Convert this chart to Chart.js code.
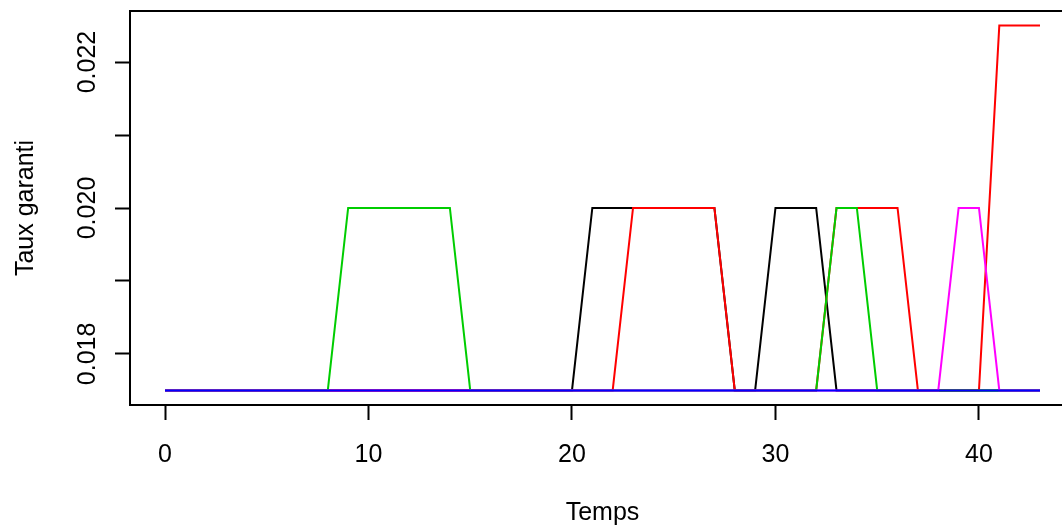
<!DOCTYPE html>
<html>
<head>
<meta charset="utf-8">
<script src="https://cdn.jsdelivr.net/npm/chart.js@4"></script>
<style>
    html, body { margin: 0; padding: 0; background: #fff; }
    #wrap { width: 1062px; height: 526px; overflow: hidden; position: relative; }
    #graficoTaux { display: block; }
</style>
</head>
<body>
<div id="wrap"><canvas id="graficoTaux" width="1076" height="526"></canvas></div>
<script>
// pas de temps
const temps = [0, 1, 2, 3, 4, 5, 6, 7, 8, 9, 10, 11, 12, 13, 14, 15, 16, 17, 18, 19, 20, 21,
    22, 23, 24, 25, 26, 27, 28, 29, 30, 31, 32, 33, 34, 35, 36, 37, 38, 39, 40, 41, 42, 43];

// taux garanti par scénario
const tauxNoir = [0.0175, 0.0175, 0.0175, 0.0175, 0.0175, 0.0175, 0.0175, 0.0175, 0.0175, 0.0175, 0.0175,
    0.0175, 0.0175, 0.0175, 0.0175, 0.0175, 0.0175, 0.0175, 0.0175, 0.0175, 0.0175, 0.02,
    0.02, 0.02, 0.02, 0.02, 0.02, 0.02, 0.0175, 0.0175, 0.02, 0.02, 0.02, 0.0175,
    0.0175, 0.0175, 0.0175, 0.0175, 0.0175, 0.0175, 0.0175, 0.0175, 0.0175, 0.0175];
const tauxRouge = [0.0175, 0.0175, 0.0175, 0.0175, 0.0175, 0.0175, 0.0175, 0.0175, 0.0175, 0.0175, 0.0175,
    0.0175, 0.0175, 0.0175, 0.0175, 0.0175, 0.0175, 0.0175, 0.0175, 0.0175, 0.0175, 0.0175,
    0.0175, 0.02, 0.02, 0.02, 0.02, 0.02, 0.0175, 0.0175, 0.0175, 0.0175, 0.0175, 0.02,
    0.02, 0.02, 0.02, 0.0175, 0.0175, 0.0175, 0.0175, 0.0225, 0.0225, 0.0225];
const tauxVert = [0.0175, 0.0175, 0.0175, 0.0175, 0.0175, 0.0175, 0.0175, 0.0175, 0.0175, 0.02, 0.02,
    0.02, 0.02, 0.02, 0.02, 0.0175, 0.0175, 0.0175, 0.0175, 0.0175, 0.0175, 0.0175,
    0.0175, 0.0175, 0.0175, 0.0175, 0.0175, 0.0175, 0.0175, 0.0175, 0.0175, 0.0175, 0.0175, 0.02,
    0.02, 0.0175, 0.0175, 0.0175, 0.0175, 0.0175, 0.0175, 0.0175, 0.0175, 0.0175];
const tauxMagenta = [0.0175, 0.0175, 0.0175, 0.0175, 0.0175, 0.0175, 0.0175, 0.0175, 0.0175, 0.0175, 0.0175,
    0.0175, 0.0175, 0.0175, 0.0175, 0.0175, 0.0175, 0.0175, 0.0175, 0.0175, 0.0175, 0.0175,
    0.0175, 0.0175, 0.0175, 0.0175, 0.0175, 0.0175, 0.0175, 0.0175, 0.0175, 0.0175, 0.0175, 0.0175,
    0.0175, 0.0175, 0.0175, 0.0175, 0.0175, 0.02, 0.02, 0.0175, 0.0175, 0.0175];
const tauxBleu = [0.0175, 0.0175, 0.0175, 0.0175, 0.0175, 0.0175, 0.0175, 0.0175, 0.0175, 0.0175, 0.0175,
    0.0175, 0.0175, 0.0175, 0.0175, 0.0175, 0.0175, 0.0175, 0.0175, 0.0175, 0.0175, 0.0175,
    0.0175, 0.0175, 0.0175, 0.0175, 0.0175, 0.0175, 0.0175, 0.0175, 0.0175, 0.0175, 0.0175, 0.0175,
    0.0175, 0.0175, 0.0175, 0.0175, 0.0175, 0.0175, 0.0175, 0.0175, 0.0175, 0.0175];

// graduations des axes
const ticksX = [0, 10, 20, 30, 40];
const ticksY = [0.018, 0.019, 0.020, 0.021, 0.022];
const labelsY = ['0.018', '', '0.020', '', '0.022'];

const police = '25px "Liberation Sans", Arial, sans-serif';

function serie(valeurs) {
    return temps.map((t, i) => ({ x: t, y: valeurs[i] }));
}

// la dernière série est dessinée au-dessus (order plus petit = dessus)
const series = [
    { data: tauxNoir, couleur: '#000000' },
    { data: tauxRouge, couleur: '#FF0000' },
    { data: tauxVert, couleur: '#00CD00' },
    { data: tauxMagenta, couleur: '#FF00FF' },
    { data: tauxBleu, couleur: '#0000FF' }
];

// cadre, étiquettes des graduations et titres des axes
const habillage = {
    id: 'habillage',
    afterDraw(chart) {
        const ctx = chart.ctx;
        const area = chart.chartArea;
        const sx = chart.scales.x;
        const sy = chart.scales.y;
        ctx.save();
        ctx.strokeStyle = '#000';
        ctx.lineWidth = 2;
        ctx.strokeRect(area.left, area.top, area.right - area.left, area.bottom - area.top);

        ctx.fillStyle = '#000';
        ctx.font = police;
        ctx.textAlign = 'center';
        ctx.textBaseline = 'alphabetic';
        ticksX.forEach(v => {
            ctx.fillText(String(v), sx.getPixelForValue(v), 462);
        });
        ctx.fillText('Temps', (area.left + area.right) / 2, 520);

        ticksY.forEach((v, i) => {
            if (!labelsY[i]) return;
            ctx.save();
            ctx.translate(95, sy.getPixelForValue(v));
            ctx.rotate(-Math.PI / 2);
            ctx.fillText(labelsY[i], 0, 0);
            ctx.restore();
        });
        ctx.save();
        ctx.translate(33, (area.top + area.bottom) / 2);
        ctx.rotate(-Math.PI / 2);
        ctx.fillText('Taux garanti', 0, 0);
        ctx.restore();
        ctx.restore();
    }
};

const ctx = document.getElementById('graficoTaux').getContext('2d');
new Chart(ctx, {
    type: 'line',
    data: {
        datasets: series.map((s, i) => ({
            data: serie(s.data),
            borderColor: s.couleur,
            borderWidth: 2,
            pointRadius: 0,
            tension: 0,
            fill: false,
            order: series.length - i
        }))
    },
    options: {
        responsive: false,
        animation: false,
        devicePixelRatio: 1,
        layout: { padding: { top: 11, right: 1, left: 0, bottom: 0 } },
        plugins: {
            legend: { display: false },
            tooltip: { enabled: false }
        },
        scales: {
            x: {
                type: 'linear',
                min: -1.72,
                max: 44.72,
                afterBuildTicks: scale => { scale.ticks = ticksX.map(v => ({ value: v })); },
                afterFit: scale => { scale.height = 121; },
                ticks: { display: false },
                border: { display: false },
                grid: {
                    drawOnChartArea: false,
                    drawTicks: true,
                    tickLength: 15,
                    tickWidth: 2,
                    tickColor: '#000'
                }
            },
            y: {
                type: 'linear',
                min: 0.0173,
                max: 0.0227,
                afterBuildTicks: scale => { scale.ticks = ticksY.map(v => ({ value: v })); },
                afterFit: scale => { scale.width = 130; },
                ticks: { display: false },
                border: { display: false },
                grid: {
                    drawOnChartArea: false,
                    drawTicks: true,
                    tickLength: 15,
                    tickWidth: 2,
                    tickColor: '#000'
                }
            }
        }
    },
    plugins: [habillage]
});
</script>
</body>
</html>
